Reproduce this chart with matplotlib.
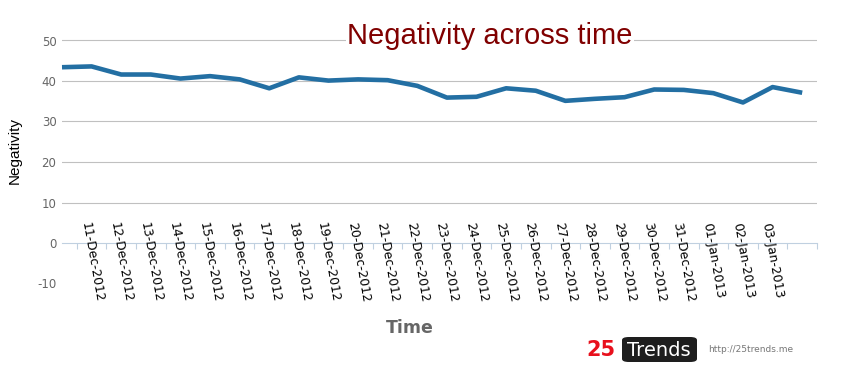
import matplotlib.pyplot as plt
from matplotlib.patches import FancyBboxPatch

plt.rcParams["axes.unicode_minus"] = False

# daily negativity score, 10-Dec-2012 .. 04-Jan-2013
dates = ["10-Dec-2012", "11-Dec-2012", "12-Dec-2012", "13-Dec-2012", "14-Dec-2012",
         "15-Dec-2012", "16-Dec-2012", "17-Dec-2012", "18-Dec-2012", "19-Dec-2012",
         "20-Dec-2012", "21-Dec-2012", "22-Dec-2012", "23-Dec-2012", "24-Dec-2012",
         "25-Dec-2012", "26-Dec-2012", "27-Dec-2012", "28-Dec-2012", "29-Dec-2012",
         "30-Dec-2012", "31-Dec-2012", "01-Jan-2013", "02-Jan-2013", "03-Jan-2013",
         "04-Jan-2013"]
negativity = [43.4, 43.6, 41.6, 41.6, 40.6, 41.2, 40.4, 38.2, 40.9, 40.1,
              40.4, 40.2, 38.8, 35.9, 36.1, 38.2, 37.6, 35.1, 35.6, 36.0,
              37.9, 37.8, 37.0, 34.7, 38.5, 37.1]
y_ticks = [-10, 0, 10, 20, 30, 40, 50]

W, H = 860, 384
fig = plt.figure(figsize=(W / 100, H / 100), dpi=100)
ax = fig.add_axes([62 / W, 1 - 300 / H, 755 / W, 280 / H])

x = list(range(len(dates)))
ax.set_xlim(0, len(dates) - 0.5)
ax.set_ylim((243 - 300) / 4.05, (243 - 20) / 4.05)

# grid lines (no line for -10, as in the original)
for v in y_ticks:
    if v > 0:
        ax.axhline(v, color="#c0c0c0", lw=0.8, zorder=1)

ax.plot(x, negativity, color="#236fa3", lw=3.3, solid_joinstyle="round",
        solid_capstyle="butt", zorder=3, clip_on=False)

for s in ["left", "top", "right"]:
    ax.spines[s].set_visible(False)
ax.spines["bottom"].set_position(("data", 0))
ax.spines["bottom"].set_color("#c0d0e0")
ax.spines["bottom"].set_linewidth(0.8)

ax.set_xticks([i + 0.5 for i in x])
ax.set_xticklabels([])
ax.tick_params(axis="x", direction="out", length=4, width=0.8, color="#c0d0e0")

ax.set_yticks(y_ticks)
ax.tick_params(axis="y", length=0, pad=4, labelsize=8.5, labelcolor="#666666")

# rotated date labels, starting just above the zero line
for i in range(1, len(dates) - 1):
    ax.text(i - 0.35, 4.9, dates[i], rotation=-80, rotation_mode="anchor",
            ha="left", va="baseline", fontsize=9, color="#000000")

fig.text(490 / W, 1 - 36 / H, "Negativity across time", fontsize=21,
         family="Liberation Sans", color="#800000", ha="center", va="center",
         bbox=dict(facecolor="white", edgecolor="none", pad=1))
fig.text(15 / W, 1 - 150 / H, "Negativity", rotation=90, fontsize=11,
         family="Liberation Sans", ha="center", va="center")
fig.text(410 / W, 1 - 328 / H, "Time", fontsize=12.5, fontweight="bold",
         color="#666666", ha="center", va="center")

# 25Trends logo
fig.text(601 / W, 1 - 350 / H, "25", fontsize=15, fontweight="bold",
         color="#e8101c", ha="center", va="center")
box = FancyBboxPatch((622 / W, 1 - 362 / H), 75 / W, 25 / H,
                     boxstyle="round,pad=0,rounding_size=0.008",
                     transform=fig.transFigure, facecolor="#1e1e1e", edgecolor="none")
fig.patches.append(box)
fig.text(659 / W, 1 - 350 / H, "Trends", fontsize=14, color="white",
         ha="center", va="center")
fig.text(708 / W, 1 - 350 / H, "http://25trends.me", fontsize=6.5,
         color="#777777", ha="left", va="center")

fig.savefig("out.png", dpi=100)
